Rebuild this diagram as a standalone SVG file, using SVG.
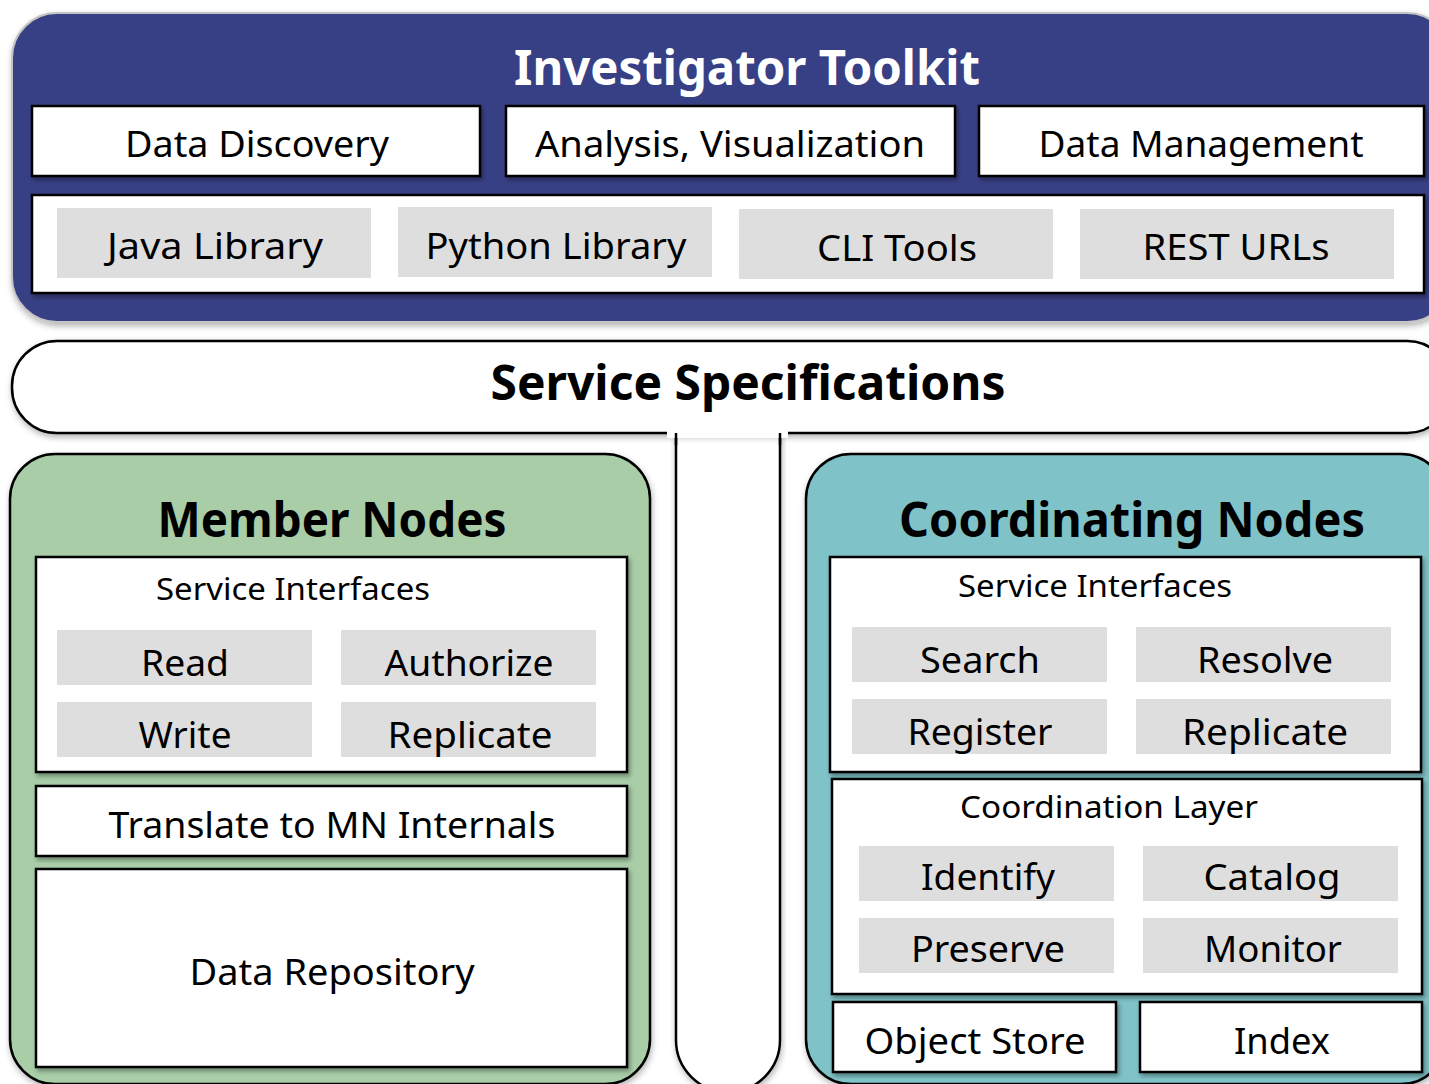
<svg xmlns="http://www.w3.org/2000/svg" width="1429" height="1084" viewBox="0 0 1429 1084">
  <defs>
    <filter id="shadow" x="-5%" y="-5%" width="110%" height="115%">
      <feDropShadow dx="2" dy="3" stdDeviation="2" flood-color="#000" flood-opacity="0.35"/>
    </filter>
    <filter id="softShadow" x="-5%" y="-5%" width="110%" height="115%">
      <feDropShadow dx="1" dy="3" stdDeviation="3" flood-color="#000" flood-opacity="0.3"/>
    </filter>
  </defs>
  <style>
    text { font-family: "Noto Sans", "Open Sans", sans-serif; fill: #000; text-anchor: middle; }
    .title { font-weight: bold; font-size: 48px; }
    .white { fill: #fff; }
    .lbl { font-size: 37px; }
    .sub { font-size: 30px; }
    .box { fill: #fff; stroke: #000; stroke-width: 2.5; filter: url(#shadow); }
    .item { fill: #dedede; }
    .panel { stroke: #000; stroke-width: 2.5; filter: url(#softShadow); }
  </style>

  <rect width="1429" height="1084" fill="#fff"/>

  <!-- Investigator Toolkit -->
  <g id="toolkit">
    <rect x="12" y="13" width="1440" height="309" rx="45" fill="#383f85" stroke="#c4c4c4" stroke-width="2" filter="url(#softShadow)"/>
    <text class="title white" x="747" y="85" textLength="466" lengthAdjust="spacingAndGlyphs">Investigator Toolkit</text>
    <g id="data-discovery">
      <rect class="box" x="32" y="106" width="448" height="70"/>
      <text class="lbl" x="257" y="157" textLength="264" lengthAdjust="spacingAndGlyphs">Data Discovery</text>
    </g>
    <g id="analysis">
      <rect class="box" x="506" y="106" width="449" height="70"/>
      <text class="lbl" x="730" y="157" textLength="390" lengthAdjust="spacingAndGlyphs">Analysis, Visualization</text>
    </g>
    <g id="data-management">
      <rect class="box" x="979" y="106" width="445" height="70"/>
      <text class="lbl" x="1201" y="157" textLength="325" lengthAdjust="spacingAndGlyphs">Data Management</text>
    </g>
    <g id="libraries">
      <rect class="box" x="32" y="195" width="1392" height="98"/>
      <g id="java-library">
        <rect class="item" x="57" y="208" width="314" height="70"/>
        <text class="lbl" x="215" y="259" textLength="216" lengthAdjust="spacingAndGlyphs">Java Library</text>
      </g>
      <g id="python-library">
        <rect class="item" x="398" y="207" width="314" height="70"/>
        <text class="lbl" x="556" y="259" textLength="261" lengthAdjust="spacingAndGlyphs">Python Library</text>
      </g>
      <g id="cli-tools">
        <rect class="item" x="739" y="209" width="314" height="70"/>
        <text class="lbl" x="897" y="261" textLength="160" lengthAdjust="spacingAndGlyphs">CLI Tools</text>
      </g>
      <g id="rest-urls">
        <rect class="item" x="1080" y="209" width="314" height="70"/>
        <text class="lbl" x="1236" y="260" textLength="187" lengthAdjust="spacingAndGlyphs">REST URLs</text>
      </g>
    </g>
  </g>

  <!-- Service Specifications bar and stem -->
  <g id="service-specifications">
    <path d="M676,433 V1040 A52,52 0 0 0 780,1040 V433" fill="#fff" stroke="#000" stroke-width="2.5" filter="url(#softShadow)"/>
    <rect x="12" y="341" width="1440" height="92" rx="45" fill="#fff" stroke="#000" stroke-width="2.5" filter="url(#softShadow)"/>
    <rect x="667" y="428" width="121" height="10" fill="#fff"/>
    <line x1="676" y1="433" x2="676" y2="445" stroke="#000" stroke-width="2.5"/>
    <line x1="780" y1="433" x2="780" y2="445" stroke="#000" stroke-width="2.5"/>
    <text class="title" x="748" y="400" font-size="46" textLength="515" lengthAdjust="spacingAndGlyphs">Service Specifications</text>
  </g>

  <!-- Member Nodes -->
  <g id="member-nodes">
    <rect class="panel" x="10" y="454" width="640" height="630" rx="45" fill="#a8cda7"/>
    <text class="title" x="332" y="537" textLength="349" lengthAdjust="spacingAndGlyphs">Member Nodes</text>
    <g id="mn-service-interfaces">
      <rect class="box" x="36" y="557" width="591" height="215"/>
      <text class="sub" x="293" y="600" textLength="274" lengthAdjust="spacingAndGlyphs">Service Interfaces</text>
      <g id="mn-read">
        <rect class="item" x="57" y="630" width="255" height="55"/>
        <text class="lbl" x="185" y="676" textLength="88" lengthAdjust="spacingAndGlyphs">Read</text>
      </g>
      <g id="mn-authorize">
        <rect class="item" x="341" y="630" width="255" height="55"/>
        <text class="lbl" x="469" y="676" textLength="169" lengthAdjust="spacingAndGlyphs">Authorize</text>
      </g>
      <g id="mn-write">
        <rect class="item" x="57" y="702" width="255" height="55"/>
        <text class="lbl" x="185" y="748" textLength="93" lengthAdjust="spacingAndGlyphs">Write</text>
      </g>
      <g id="mn-replicate">
        <rect class="item" x="341" y="702" width="255" height="55"/>
        <text class="lbl" x="470" y="748" textLength="165" lengthAdjust="spacingAndGlyphs">Replicate</text>
      </g>
    </g>
    <g id="mn-translate">
      <rect class="box" x="36" y="786" width="591" height="70"/>
      <text class="lbl" x="332" y="838" textLength="447" lengthAdjust="spacingAndGlyphs">Translate to MN Internals</text>
    </g>
    <g id="mn-data-repository">
      <rect class="box" x="36" y="869" width="591" height="198"/>
      <text class="lbl" x="332" y="985" textLength="285" lengthAdjust="spacingAndGlyphs">Data Repository</text>
    </g>
  </g>

  <!-- Coordinating Nodes -->
  <g id="coordinating-nodes">
    <rect class="panel" x="806" y="454" width="640" height="630" rx="45" fill="#7fc2c7"/>
    <text class="title" x="1132" y="537" textLength="466" lengthAdjust="spacingAndGlyphs">Coordinating Nodes</text>
    <g id="cn-service-interfaces">
      <rect class="box" x="830" y="557" width="591" height="215"/>
      <text class="sub" x="1095" y="597" textLength="274" lengthAdjust="spacingAndGlyphs">Service Interfaces</text>
      <g id="cn-search">
        <rect class="item" x="852" y="627" width="255" height="55"/>
        <text class="lbl" x="980" y="673" textLength="120" lengthAdjust="spacingAndGlyphs">Search</text>
      </g>
      <g id="cn-resolve">
        <rect class="item" x="1136" y="627" width="255" height="55"/>
        <text class="lbl" x="1265" y="673" textLength="136" lengthAdjust="spacingAndGlyphs">Resolve</text>
      </g>
      <g id="cn-register">
        <rect class="item" x="852" y="699" width="255" height="55"/>
        <text class="lbl" x="980" y="745" textLength="145" lengthAdjust="spacingAndGlyphs">Register</text>
      </g>
      <g id="cn-replicate">
        <rect class="item" x="1136" y="699" width="255" height="55"/>
        <text class="lbl" x="1265" y="745" textLength="166" lengthAdjust="spacingAndGlyphs">Replicate</text>
      </g>
    </g>
    <g id="cn-coordination-layer">
      <rect class="box" x="832" y="779" width="590" height="215"/>
      <text class="sub" x="1109" y="818" textLength="298" lengthAdjust="spacingAndGlyphs">Coordination Layer</text>
      <g id="cn-identify">
        <rect class="item" x="859" y="846" width="255" height="55"/>
        <text class="lbl" x="988" y="890" textLength="134" lengthAdjust="spacingAndGlyphs">Identify</text>
      </g>
      <g id="cn-catalog">
        <rect class="item" x="1143" y="846" width="255" height="55"/>
        <text class="lbl" x="1272" y="890" textLength="137" lengthAdjust="spacingAndGlyphs">Catalog</text>
      </g>
      <g id="cn-preserve">
        <rect class="item" x="859" y="918" width="255" height="55"/>
        <text class="lbl" x="988" y="962" textLength="154" lengthAdjust="spacingAndGlyphs">Preserve</text>
      </g>
      <g id="cn-monitor">
        <rect class="item" x="1143" y="918" width="255" height="55"/>
        <text class="lbl" x="1273" y="962" textLength="138" lengthAdjust="spacingAndGlyphs">Monitor</text>
      </g>
    </g>
    <g id="cn-object-store">
      <rect class="box" x="833" y="1002" width="283" height="70"/>
      <text class="lbl" x="975" y="1054" textLength="221" lengthAdjust="spacingAndGlyphs">Object Store</text>
    </g>
    <g id="cn-index">
      <rect class="box" x="1140" y="1002" width="282" height="70"/>
      <text class="lbl" x="1282" y="1054" textLength="96" lengthAdjust="spacingAndGlyphs">Index</text>
    </g>
  </g>

  <!-- connectors: none; layers touch directly -->
  <g id="connectors"/>
</svg>
